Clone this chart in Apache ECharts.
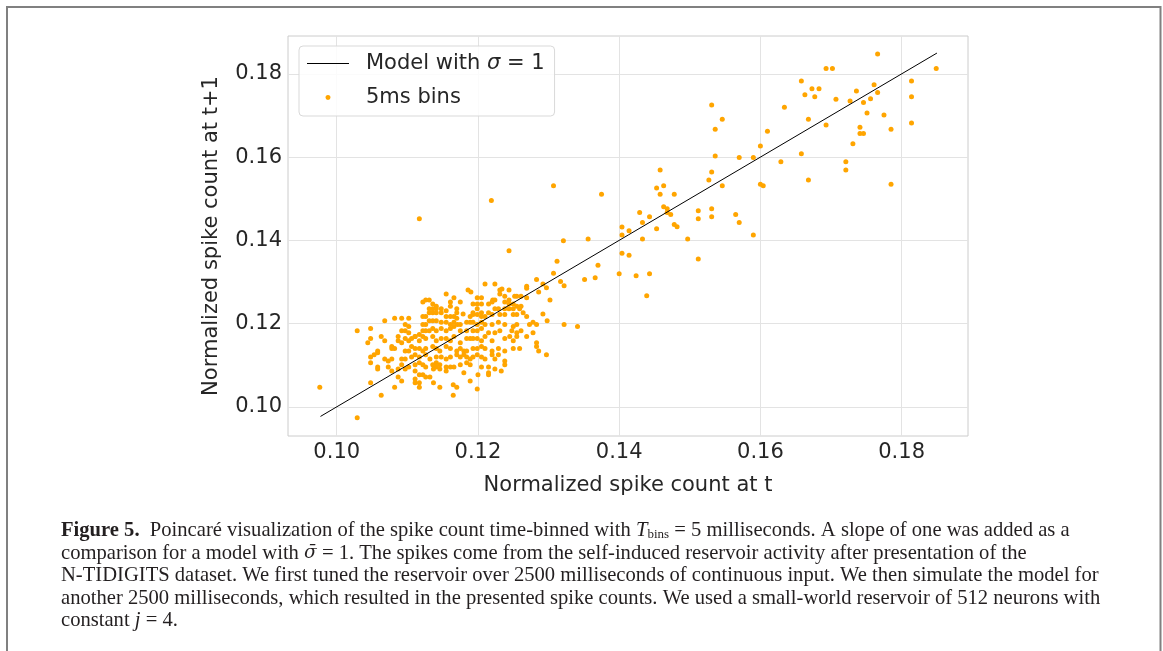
<!DOCTYPE html>
<html>
<head>
<meta charset="utf-8">
<script src="https://cdn.jsdelivr.net/npm/echarts@6/dist/echarts.min.js"></script>
<style>
html,body{margin:0;padding:0;background:#fff}
#main{width:1163px;height:651px}
</style>
</head>
<body>
<div id="main"></div>
<script>
// tick positions
var xTicks = [0.10, 0.12, 0.14, 0.16, 0.18];
var yTicks = [0.10, 0.12, 0.14, 0.16, 0.18];

// slope-one model line (start, end)
var modelLine = [[0.0977, 0.0977], [0.1850, 0.1850]];

// poincare points, [count at t, count at t+1]
var spikeUpper = [
  [0.1766,0.1848],[0.1693,0.1813],[0.1702,0.1813],[0.1849,0.1813],[0.1658,0.1783],[0.1814,0.1783],
  [0.1673,0.1764],[0.1683,0.1764],[0.1761,0.1774],[0.1663,0.1750],[0.1677,0.1745],[0.1736,0.1759],
  [0.1766,0.1755],[0.1814,0.1745],[0.1707,0.1739],[0.1727,0.1735],[0.1756,0.1740],[0.1746,0.1731],
  [0.1531,0.1725],[0.1634,0.1720],[0.1751,0.1706],[0.1775,0.1701],[0.1546,0.1691],[0.1668,0.1691],
  [0.1693,0.1677],[0.1814,0.1682],[0.1536,0.1667],[0.1741,0.1672],[0.1741,0.1657],[0.1746,0.1657],
  [0.1785,0.1667],[0.1610,0.1662],[0.1731,0.1632],[0.1600,0.1627],[0.1658,0.1608],[0.1536,0.1603],
  [0.1570,0.1599],[0.1590,0.1599],[0.1629,0.1589],[0.1721,0.1589],[0.1721,0.1569],[0.1458,0.1569],
  [0.1531,0.1564],[0.1527,0.1545],[0.1668,0.1545],[0.1453,0.1526],[0.1463,0.1531],[0.1546,0.1531],
  [0.1600,0.1535],[0.1604,0.1531],[0.1785,0.1535]
];
var spikeMiddle = [
  [0.1307,0.1531],[0.1375,0.1511],[0.1458,0.1511],[0.1478,0.1511],[0.1463,0.1481],[0.1468,0.1476],
  [0.1429,0.1467],[0.1468,0.1467],[0.1473,0.1462],[0.1443,0.1457],[0.1433,0.1443],[0.1478,0.1438],
  [0.1482,0.1433],[0.1453,0.1428],[0.1512,0.1471],[0.1512,0.1452],[0.1531,0.1476],[0.1531,0.1457],
  [0.1565,0.1462],[0.1570,0.1443],[0.1590,0.1413],[0.1497,0.1403],[0.1404,0.1432],[0.1404,0.1413],
  [0.1414,0.1423],[0.1433,0.1403],[0.1356,0.1403],[0.1321,0.1399],[0.1404,0.1369],[0.1414,0.1364],
  [0.1512,0.1355],[0.1312,0.1350],[0.1370,0.1340],[0.1400,0.1320],[0.1424,0.1315],[0.1443,0.1320],
  [0.1351,0.1306],[0.1366,0.1310],[0.1439,0.1267],[0.1317,0.1301],
  [0.1117,0.1452],[0.1219,0.1496],[0.1244,0.1375],[0.1234,0.1283]
];
var spikeCluster = [
  [0.1307,0.1321],[0.1283,0.1306],[0.1210,0.1295],[0.1224,0.1295],[0.1292,0.1295],[0.1322,0.1291],
  [0.1186,0.1281],[0.1190,0.1276],[0.1231,0.1281],[0.1244,0.1281],[0.1269,0.1290],[0.1269,0.1285],
  [0.1286,0.1276],[0.1297,0.1286],
  [0.1155,0.1271],[0.1166,0.1262],[0.1199,0.1262],[0.1205,0.1262],[0.1221,0.1257],[0.1231,0.1271],
  [0.1238,0.1266],[0.1244,0.1257],[0.1252,0.1266],[0.1255,0.1266],[0.1261,0.1266],[0.1269,0.1262],
  [0.1302,0.1257],
  [0.1126,0.1257],[0.1131,0.1257],[0.1122,0.1252],[0.1136,0.1247],[0.1141,0.1242],[0.1161,0.1252],
  [0.1175,0.1252],[0.1193,0.1247],[0.1199,0.1247],[0.1205,0.1247],[0.1215,0.1247],[0.1220,0.1252],
  [0.1224,0.1257],[0.1238,0.1252],[0.1244,0.1247],[0.1250,0.1247],[0.1255,0.1242],[0.1261,0.1242],
  [0.1131,0.1236],[0.1136,0.1236],[0.1141,0.1236],[0.1148,0.1236],[0.1155,0.1231],[0.1161,0.1242],
  [0.1170,0.1236],[0.1170,0.1226],[0.1193,0.1226],[0.1199,0.1236],[0.1205,0.1226],[0.1215,0.1226],
  [0.1224,0.1236],[0.1229,0.1236],[0.1238,0.1236],[0.1244,0.1236],[0.1250,0.1236],[0.1259,0.1236],
  [0.1264,0.1226],[0.1269,0.1217],[0.1292,0.1223],
  [0.1068,0.1207],[0.1082,0.1213],[0.1092,0.1213],[0.1102,0.1213],[0.1122,0.1217],[0.1126,0.1217],
  [0.1131,0.1226],[0.1136,0.1226],[0.1141,0.1226],[0.1148,0.1226],[0.1155,0.1217],[0.1161,0.1217],
  [0.1166,0.1217],[0.1170,0.1213],[0.1179,0.1223],[0.1189,0.1217],[0.1193,0.1222],[0.1199,0.1222],
  [0.1205,0.1217],[0.1210,0.1217],[0.1220,0.1222],[0.1231,0.1222],[0.1238,0.1222],[0.1250,0.1222],
  [0.1255,0.1222],[0.1298,0.1207],
  [0.1097,0.1198],[0.1102,0.1193],[0.1122,0.1198],[0.1126,0.1198],[0.1131,0.1207],[0.1136,0.1207],
  [0.1141,0.1207],[0.1148,0.1203],[0.1155,0.1203],[0.1161,0.1198],[0.1166,0.1203],[0.1171,0.1198],
  [0.1175,0.1198],[0.1184,0.1203],[0.1189,0.1203],[0.1193,0.1203],[0.1199,0.1198],[0.1205,0.1203],
  [0.1210,0.1198],[0.1220,0.1198],[0.1229,0.1203],[0.1238,0.1198],[0.1250,0.1193],[0.1255,0.1198],
  [0.1273,0.1198],[0.1278,0.1203],[0.1283,0.1198],[0.1322,0.1198],[0.1341,0.1193],
  [0.1029,0.1183],[0.1048,0.1188],[0.1092,0.1183],[0.1097,0.1183],[0.1102,0.1178],[0.1111,0.1169],
  [0.1117,0.1174],[0.1122,0.1183],[0.1126,0.1183],[0.1131,0.1183],[0.1136,0.1188],[0.1141,0.1183],
  [0.1148,0.1188],[0.1155,0.1183],[0.1161,0.1188],[0.1166,0.1193],[0.1175,0.1183],[0.1184,0.1183],
  [0.1193,0.1183],[0.1199,0.1183],[0.1205,0.1188],[0.1215,0.1178],[0.1224,0.1178],[0.1231,0.1183],
  [0.1248,0.1183],[0.1255,0.1178],[0.1261,0.1183],[0.1278,0.1178],
  [0.1048,0.1164],[0.1063,0.1169],[0.1068,0.1159],[0.1087,0.1169],[0.1087,0.1159],[0.1092,0.1154],
  [0.1097,0.1164],[0.1102,0.1159],[0.1106,0.1164],[0.1111,0.1169],[0.1117,0.1159],[0.1122,0.1169],
  [0.1126,0.1164],[0.1136,0.1169],[0.1141,0.1159],[0.1148,0.1164],[0.1155,0.1164],[0.1161,0.1159],
  [0.1166,0.1169],[0.1175,0.1154],[0.1184,0.1164],[0.1189,0.1164],[0.1193,0.1164],[0.1199,0.1164],
  [0.1205,0.1159],[0.1210,0.1169],[0.1220,0.1159],[0.1238,0.1164],[0.1245,0.1169],[0.1250,0.1159],
  [0.1255,0.1169],[0.1269,0.1169],[0.1283,0.1154],
  [0.1044,0.1154],[0.1058,0.1134],[0.1058,0.1130],[0.1078,0.1145],[0.1078,0.1140],[0.1082,0.1140],
  [0.1097,0.1134],[0.1102,0.1134],[0.1106,0.1145],[0.1111,0.1140],[0.1117,0.1140],[0.1122,0.1134],
  [0.1126,0.1140],[0.1136,0.1145],[0.1141,0.1140],[0.1146,0.1134],[0.1155,0.1145],[0.1161,0.1140],
  [0.1170,0.1134],[0.1175,0.1140],[0.1180,0.1134],[0.1184,0.1134],[0.1193,0.1140],[0.1199,0.1140],
  [0.1205,0.1145],[0.1210,0.1140],[0.1220,0.1134],[0.1229,0.1140],[0.1238,0.1134],[0.1250,0.1140],
  [0.1259,0.1140],[0.1283,0.1145],[0.1286,0.1134],
  [0.1048,0.1120],[0.1053,0.1125],[0.1068,0.1115],[0.1073,0.1110],[0.1078,0.1115],[0.1092,0.1115],
  [0.1097,0.1115],[0.1106,0.1120],[0.1111,0.1125],[0.1117,0.1120],[0.1126,0.1125],[0.1132,0.1115],
  [0.1141,0.1120],[0.1148,0.1120],[0.1155,0.1115],[0.1161,0.1120],[0.1170,0.1125],[0.1175,0.1120],
  [0.1180,0.1125],[0.1184,0.1120],[0.1189,0.1115],[0.1193,0.1120],[0.1199,0.1125],[0.1205,0.1120],
  [0.1210,0.1115],[0.1220,0.1125],[0.1224,0.1115],[0.1229,0.1125],[0.1238,0.1110],[0.1297,0.1125],
  [0.1048,0.1106],[0.1058,0.1096],[0.1058,0.1091],[0.1073,0.1096],[0.1078,0.1086],[0.1087,0.1091],
  [0.1092,0.1101],[0.1097,0.1091],[0.1102,0.1096],[0.1111,0.1101],[0.1117,0.1106],[0.1122,0.1101],
  [0.1126,0.1096],[0.1136,0.1101],[0.1141,0.1106],[0.1141,0.1096],[0.1146,0.1101],[0.1155,0.1096],
  [0.1161,0.1096],[0.1166,0.1096],[0.1175,0.1101],[0.1184,0.1106],[0.1189,0.1101],[0.1205,0.1096],
  [0.1215,0.1096],[0.1224,0.1091],[0.1233,0.1086],[0.1238,0.1101],
  [0.1087,0.1072],[0.1092,0.1062],[0.1111,0.1086],[0.1117,0.1077],[0.1122,0.1077],[0.1126,0.1072],
  [0.1132,0.1072],[0.1137,0.1091],[0.1146,0.1091],[0.1155,0.1086],[0.1180,0.1082],[0.1200,0.1077],
  [0.1215,0.1077],[0.1215,0.1082],
  [0.1048,0.1058],[0.1082,0.1047],[0.1111,0.1067],[0.1111,0.1058],[0.1117,0.1058],[0.1117,0.1047],
  [0.1137,0.1058],[0.1146,0.1047],[0.1165,0.1053],[0.1170,0.1047],[0.1189,0.1062],
  [0.0976,0.1047],[0.1063,0.1028],[0.1165,0.1028],[0.1199,0.1043],[0.1029,0.0974]
];
var spikePoints = spikeUpper.concat(spikeMiddle, spikeCluster);

var captionLines = [
  '{b|Figure 5.}  Poincaré visualization of the spike count time-binned with {i|T}{sub|bins} = 5 milliseconds. A slope of one was added as a',
  'comparison for a model with {s|σ̄} = 1. The spikes come from the self-induced reservoir activity after presentation of the',
  'N-TIDIGITS dataset. We first tuned the reservoir over 2500 milliseconds of continuous input. We then simulate the model for',
  'another 2500 milliseconds, which resulted in the presented spike counts. We used a small-world reservoir of 512 neurons with',
  'constant {i|j} = 4.'
];

var chart = echarts.init(document.getElementById('main'));

var txt = '#262626';
var sans = 'DejaVu Sans';
var serif = 'Liberation Serif';
var capSize = 20.6;
var fs = 21;

var graphics = [{
  type: 'rect', z: 100, silent: true,
  shape: {x: 7, y: 7, width: 1153.5, height: 700},
  style: {fill: 'none', stroke: '#808080', lineWidth: 2}
}];
for (var i = 0; i < captionLines.length; i++) {
  graphics.push({
    type: 'text', left: 61, top: 520 + i * 22.6, silent: true,
    style: {
      text: captionLines[i],
      font: capSize + 'px "' + serif + '"',
      fill: '#231f20',
      rich: {
        b: {fontWeight: 'bold', fontFamily: serif, fontSize: capSize, fill: '#231f20'},
        i: {fontStyle: 'italic', fontFamily: serif, fontSize: capSize, fill: '#231f20'},
        s: {fontStyle: 'italic', fontFamily: 'DejaVu Serif', fontSize: capSize - 2, fill: '#231f20'},
        sub: {fontFamily: serif, fontSize: 13, fill: '#231f20', verticalAlign: 'bottom', lineHeight: 17}
      }
    }
  });
}

var lineIcon = 'path://M0,0L0.01,0M0,9.5L42,9.5L42,10.5L0,10.5ZM42,20L42.01,20';
var dotIcon = 'path://M0,0L0.01,0M42,20L42.01,20M18.5,10a2.5,2.5,0,1,0,5,0a2.5,2.5,0,1,0,-5,0Z';

var option = {
  backgroundColor: '#ffffff',
  animation: false,
  grid: {left: 288, top: 36, width: 680, height: 400, show: true, borderColor: '#cccccc', borderWidth: 1},
  legend: {
    left: 299, top: 46, orient: 'vertical',
    itemWidth: 42, itemHeight: 20, itemGap: 13,
    padding: [7, 10, 8, 8],
    borderColor: '#d9d9d9', borderWidth: 1, borderRadius: 4,
    backgroundColor: 'rgba(255,255,255,0.85)',
    data: [{name: 'Model with σ = 1', icon: lineIcon}, {name: '5ms bins', icon: dotIcon}],
    formatter: function (n) {
      return n.indexOf('σ') >= 0 ? '{n|Model with }{i|σ}{n| = 1}' : '{n|' + n + '}';
    },
    textStyle: {
      fontFamily: sans, fontSize: fs, color: txt, padding: [0, 0, 0, 12],
      rich: {
        n: {fontFamily: sans, fontSize: fs, color: txt},
        i: {fontFamily: sans, fontSize: fs, color: txt, fontStyle: 'italic'}
      }
    }
  },
  xAxis: {
    type: 'value', min: 0.0931, max: 0.1894,
    name: 'Normalized spike count at t', nameLocation: 'middle', nameGap: 39,
    nameTextStyle: {fontFamily: sans, fontSize: fs, color: txt},
    axisLine: {show: false},
    axisTick: {show: false, customValues: xTicks},
    axisLabel: {customValues: xTicks, fontFamily: sans, fontSize: fs, color: txt, margin: 6,
      formatter: function (v) { return v.toFixed(2); }},
    splitLine: {show: true, lineStyle: {color: '#e3e3e3', width: 1}}
  },
  yAxis: {
    type: 'value', min: 0.0930, max: 0.1891,
    name: 'Normalized spike count at t+1', nameLocation: 'middle', nameGap: 66, nameRotate: 90,
    nameTextStyle: {fontFamily: sans, fontSize: fs, color: txt},
    axisLine: {show: false},
    axisTick: {show: false, customValues: yTicks},
    axisLabel: {customValues: yTicks, fontFamily: sans, fontSize: fs, color: txt, margin: 6,
      formatter: function (v) { return v.toFixed(2); }},
    splitLine: {show: true, lineStyle: {color: '#e3e3e3', width: 1}}
  },
  series: [{
    name: 'Model with σ = 1', type: 'line', data: modelLine,
    symbol: 'none', z: 3, silent: true,
    lineStyle: {color: '#000000', width: 1}, itemStyle: {color: '#000000'}
  }, {
    name: '5ms bins', type: 'scatter', data: spikePoints,
    symbolSize: 5, z: 2, silent: true,
    itemStyle: {color: '#ffa500', opacity: 1}
  }],
  graphic: graphics
};
chart.setOption(option);
</script>
</body>
</html>
